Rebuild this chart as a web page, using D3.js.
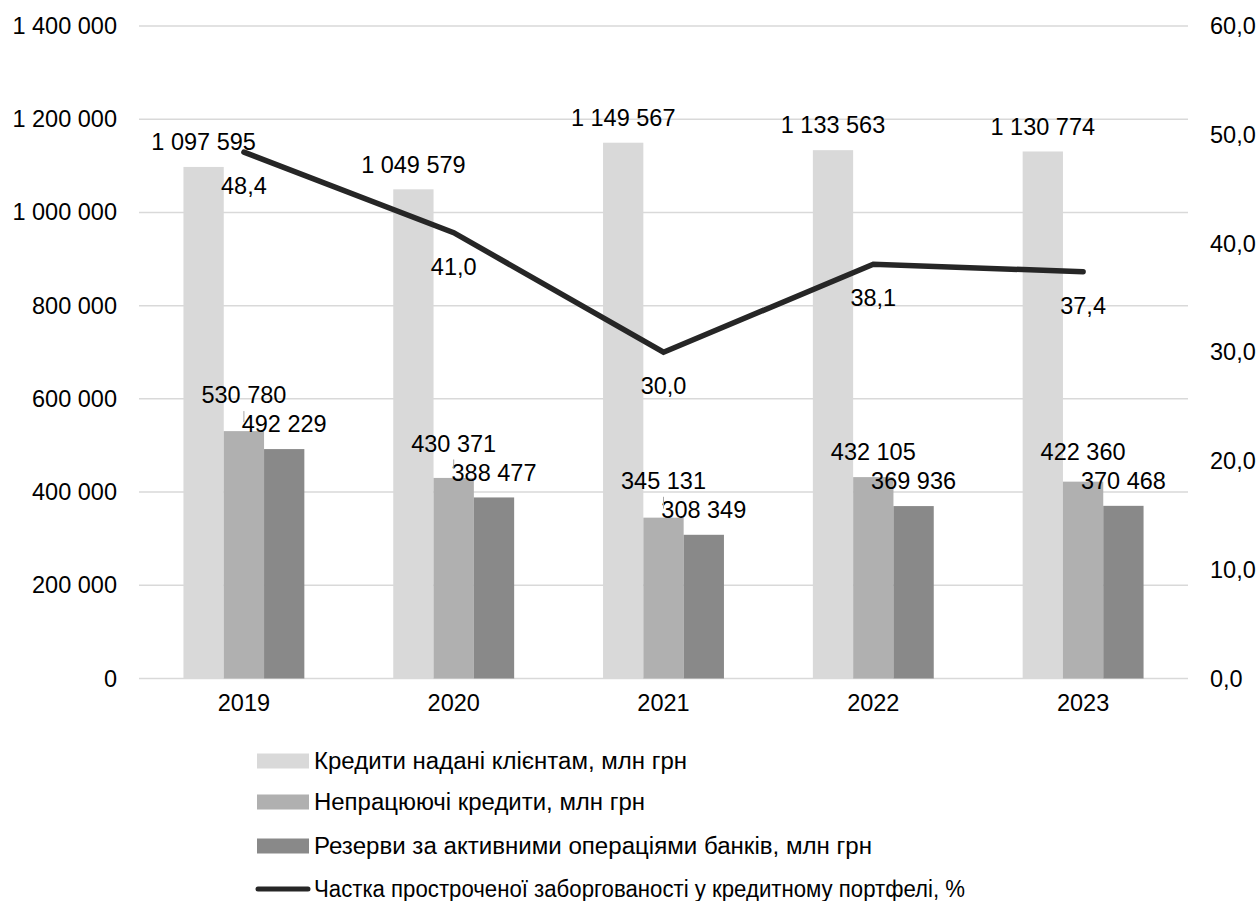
<!DOCTYPE html>
<html>
<head>
<meta charset="utf-8">
<script src="https://cdn.jsdelivr.net/npm/d3@7"></script>
<style>
  html, body { margin: 0; padding: 0; background: #fff; }
  svg { display: block; font-family: "Liberation Sans", Arial, sans-serif; }
</style>
</head>
<body>
<svg id="chart" width="1259" height="901"></svg>
<script>
const years = ["2019", "2020", "2021", "2022", "2023"];
const seriesNames = [
  "Кредити надані клієнтам, млн грн",
  "Непрацюючі кредити, млн грн",
  "Резерви за активними операціями банків, млн грн"
];
const loans = [1097595, 1049579, 1149567, 1133563, 1130774];
const npl = [530780, 430371, 345131, 432105, 422360];
const reserves = [492229, 388477, 308349, 369936, 370468];
const lineName = "Частка простроченої заборгованості у кредитному портфелі, %";
const overdueShare = [48.4, 41.0, 30.0, 38.1, 37.4];
const leftTicks = [0, 200000, 400000, 600000, 800000, 1000000, 1200000, 1400000];
const rightTicks = [0, 10, 20, 30, 40, 50, 60];

(function () {
const barColors = ["#d9d9d9", "#b0b0b0", "#898989"];
const lineColor = "#262626";
const FS = 23.5;

const svg = d3.select("#chart");
const pLeft = 139, pRight = 1188, pTop = 26, pBottom = 678.5;

const y = d3.scaleLinear().domain([0, 1400000]).range([pBottom, pTop]);
const y2 = d3.scaleLinear().domain([0, 60]).range([pBottom, pTop]);
const x0 = d3.scaleBand().domain(years).range([pLeft, pRight]).padding(0);
const x1 = d3.scaleBand().domain([0, 1, 2]).range([0, x0.bandwidth()]).paddingInner(0).paddingOuter(1.103);

const fmtL = v => d3.format(",")(v).replace(/,/g, " ");
const fmtR = v => d3.format(".1f")(v).replace(".", ",");

// gridlines
svg.append("g").selectAll("line").data(leftTicks).join("line")
  .attr("x1", pLeft).attr("x2", pRight)
  .attr("y1", d => y(d)).attr("y2", d => y(d))
  .attr("stroke", "#d9d9d9").attr("stroke-width", 1.5);

// left axis
const gl = svg.append("g").attr("transform", `translate(${pLeft - 22},0)`)
  .call(d3.axisLeft(y).tickValues(leftTicks).tickFormat(fmtL).tickSize(0).tickPadding(0));
gl.select(".domain").remove();
gl.selectAll("text").attr("font-size", FS).attr("fill", "#000").attr("font-family", "Liberation Sans, Arial, sans-serif");

// right axis
const gr = svg.append("g").attr("transform", `translate(${pRight + 22},0)`)
  .call(d3.axisRight(y2).tickValues(rightTicks).tickFormat(fmtR).tickSize(0).tickPadding(0));
gr.select(".domain").remove();
gr.selectAll("text").attr("font-size", FS).attr("fill", "#000").attr("font-family", "Liberation Sans, Arial, sans-serif");

// x axis
const gx = svg.append("g").attr("transform", `translate(0,${pBottom + 8})`)
  .call(d3.axisBottom(x0).tickSize(0).tickPadding(0));
gx.select(".domain").remove();
gx.selectAll("text").attr("font-size", FS).attr("fill", "#000").attr("dy", "1.05em").attr("font-family", "Liberation Sans, Arial, sans-serif");

// bars
const series = [loans, npl, reserves];
const rows = years.map((yr, i) => ({ yr, i, vals: series.map(s => s[i]) }));
const groups = svg.append("g").selectAll("g").data(rows).join("g")
  .attr("transform", d => `translate(${x0(d.yr)},0)`);
groups.selectAll("rect").data(d => d.vals.map((v, k) => ({ v, k }))).join("rect")
  .attr("x", d => x1(d.k)).attr("width", x1.bandwidth())
  .attr("y", d => y(d.v)).attr("height", d => pBottom - y(d.v))
  .attr("fill", d => barColors[d.k]);

// line
const lineGen = d3.line().x((d, i) => x0(years[i]) + x0.bandwidth() / 2).y(d => y2(d));
svg.append("path").datum(overdueShare)
  .attr("d", lineGen).attr("fill", "none")
  .attr("stroke", lineColor).attr("stroke-width", 5.5)
  .attr("stroke-linecap", "round").attr("stroke-linejoin", "miter");

// bar labels
const labG = svg.append("g").attr("font-size", FS).attr("fill", "#000").attr("text-anchor", "middle");
rows.forEach(r => {
  const gx0 = x0(r.yr);
  const cx = k => gx0 + x1(k) + x1.bandwidth() / 2;
  const c0 = y(r.vals[0]) - 25;
  const c2 = y(r.vals[2]) - 25;
  let c1 = y(r.vals[1]) - 25;
  let shifted = false;
  if (c1 > c2 - 29) { c1 = c2 - 29; shifted = true; }
  const big = (y(r.vals[1]) - 25 - c1) > 12;
  const lx = big ? cx(1) - 4 : cx(1);
  labG.append("text").attr("x", cx(0)).attr("y", c0).attr("dy", "0.35em").text(fmtL(r.vals[0]));
  labG.append("text").attr("x", lx).attr("y", c1).attr("dy", "0.35em").text(fmtL(r.vals[1]));
  labG.append("text").attr("x", cx(2)).attr("y", c2).attr("dy", "0.35em").text(fmtL(r.vals[2]));
  if (shifted && y(r.vals[1]) - 25 - c1 > 6) {
    const yEnd = big ? y(r.vals[1]) - 1 : Math.min(c1 + 28, y(r.vals[1]) - 9);
    labG.append("line").attr("x1", big ? lx + 1 : cx(1)).attr("x2", cx(1))
      .attr("y1", c1 + 16).attr("y2", yEnd)
      .attr("stroke", "#a6a6a6").attr("stroke-width", 1);
  }
});

// line labels
svg.append("g").attr("font-size", FS).attr("fill", "#000").attr("text-anchor", "middle")
  .selectAll("text").data(overdueShare).join("text")
  .attr("x", (d, i) => x0(years[i]) + x0.bandwidth() / 2)
  .attr("y", d => y2(d) + 34).attr("dy", "0.35em")
  .text(fmtR);

// legend
const lg = svg.append("g").attr("font-size", FS).attr("fill", "#000");
const legendY = [761, 802, 846, 889];
const legendW = [373, 331, 558, 651];
seriesNames.forEach((name, k) => {
  lg.append("rect").attr("x", 257).attr("y", legendY[k] - 7.5).attr("width", 52).attr("height", 15).attr("fill", barColors[k]);
  lg.append("text").attr("x", 314).attr("y", legendY[k]).attr("dy", "0.35em")
    .attr("textLength", legendW[k]).attr("lengthAdjust", "spacingAndGlyphs").text(name);
});
lg.append("line").attr("x1", 258).attr("x2", 308).attr("y1", legendY[3]).attr("y2", legendY[3])
  .attr("stroke", lineColor).attr("stroke-width", 5).attr("stroke-linecap", "round");
lg.append("text").attr("x", 314).attr("y", legendY[3]).attr("dy", "0.35em")
  .attr("textLength", legendW[3]).attr("lengthAdjust", "spacingAndGlyphs").text(lineName);
})();
</script>
</body>
</html>
